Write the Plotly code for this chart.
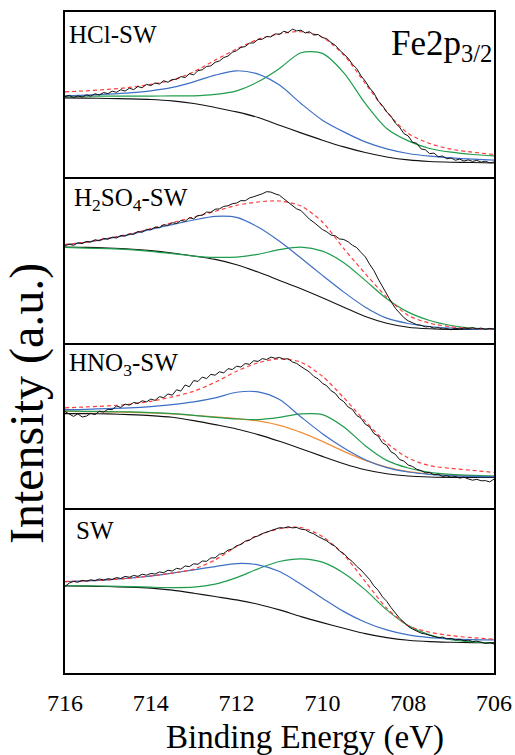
import plotly.graph_objects as go
from plotly.subplots import make_subplots

# ---------------- data (binding energy in eV, intensity in a.u.) ----------------
E_RAW = [round(716 - 0.1 * i, 1) for i in range(101)]
E_FIT = [716 - 0.5 * i for i in range(21)]
X_TICKS = [716, 714, 712, 710, 708, 706]

# HCl-SW
hcl_raw = [80.5, 81.8, 79.6, 81.2, 80.1, 82.3, 81.0, 83.4, 82.1, 84.6,
           83.5, 85.9, 84.8, 87.4, 86.0, 88.9, 87.5, 90.6, 89.3, 92.8,
           91.5, 94.2, 93.0, 96.4, 94.8, 97.6, 97.9, 100.5, 99.6, 103.4,
           102.2, 106.5, 107.3, 110.6, 111.2, 114.8, 116.1, 119.5, 121.0, 124.8,
           126.4, 129.6, 130.5, 133.9, 134.2, 137.6, 137.8, 140.5, 140.1, 143.2,
           142.6, 145.8, 144.4, 147.9, 146.2, 146.8, 144.1, 145.3, 142.0, 142.6,
           139.5, 138.4, 134.6, 131.8, 127.0, 122.6, 118.9, 112.8, 108.5, 101.3,
           95.9, 89.2, 84.1, 76.3, 71.5, 65.2, 60.8, 54.1, 49.9, 43.6,
           41.2, 35.0, 33.9, 28.3, 27.4, 23.6, 24.1, 20.5, 21.2, 18.4,
           19.3, 17.0, 18.1, 16.2, 17.3, 15.8, 16.9, 15.1, 16.0, 14.4, 15.2]
hcl_env = [85.3, 86.3, 87.7, 89.7, 92.7, 97.0, 105.3, 117.0, 128.0, 137.7, 143.3,
           145.3, 139.7, 122.0, 93.7, 65.3, 43.7, 33.7, 28.0, 25.0, 22.7]
hcl_bg = [79.3, 79.0, 78.7, 78.3, 77.7, 76.3, 73.7, 69.7, 65.3, 59.7, 52.0,
          44.3, 37.0, 30.3, 24.7, 20.3, 17.3, 15.7, 15.0, 14.7, 14.3]
hcl_blue = [81.3, 82.0, 83.0, 84.3, 86.3, 89.7, 95.3, 102.0, 106.3, 103.0, 92.0,
            73.7, 57.0, 45.3, 35.3, 28.3, 23.7, 21.0, 19.3, 18.0, 17.0]
hcl_green = [81.0, 81.0, 81.0, 81.0, 81.0, 81.3, 81.3, 82.7, 86.3, 95.3, 108.7,
             124.3, 123.7, 104.3, 73.7, 48.7, 36.3, 28.7, 25.0, 22.7, 21.3]

# H2SO4-SW
h2so4_raw = [96.8, 98.1, 97.0, 99.5, 98.7, 100.9, 100.2, 102.6, 101.5, 104.0,
             103.1, 105.2, 104.3, 106.9, 106.2, 108.4, 108.0, 110.8, 110.1, 113.0,
             112.4, 115.2, 114.6, 117.5, 117.0, 119.6, 118.9, 121.8, 121.0, 124.6,
             123.5, 126.8, 127.1, 130.2, 130.0, 133.1, 133.4, 135.9, 136.5, 138.6,
             139.2, 141.7, 141.5, 144.3, 145.6, 146.9, 148.5, 150.6, 150.2, 148.4,
             147.0, 143.5, 140.2, 137.6, 133.4, 131.8, 127.5, 123.1, 120.0, 116.2,
             112.8, 110.6, 107.3, 106.5, 103.4, 102.8, 100.6, 97.1, 94.8, 89.9,
             85.5, 78.2, 71.9, 63.4, 55.8, 47.6, 40.9, 34.2, 29.5, 24.8,
             21.6, 19.7, 17.8, 17.2, 15.6, 15.9, 14.3, 14.8, 13.5, 13.9,
             12.7, 14.2, 13.4, 14.6, 13.8, 14.9, 13.6, 14.4, 13.2, 14.1, 13.5]
h2so4_env = [97.7, 100.3, 104.0, 108.3, 113.7, 119.7, 125.3, 131.0, 137.0, 140.3, 141.3,
             136.3, 120.3, 93.7, 68.7, 45.3, 27.0, 19.3, 15.7, 14.0, 13.3]
h2so4_bg = [95.3, 95.0, 94.3, 93.3, 91.7, 89.3, 86.3, 83.0, 77.7, 70.3, 62.0,
            53.7, 44.7, 35.3, 26.0, 19.3, 15.3, 13.7, 13.0, 13.0, 13.0]
h2so4_blue = [97.7, 100.3, 103.7, 107.7, 113.0, 117.7, 122.3, 126.0, 125.0, 115.3, 101.0,
              84.3, 67.0, 50.3, 35.3, 24.3, 19.0, 16.0, 14.3, 13.3, 13.0]
h2so4_green = [95.0, 94.3, 93.7, 92.7, 91.0, 88.7, 86.3, 85.0, 85.3, 88.0, 92.7,
               95.3, 91.3, 79.7, 62.0, 43.7, 30.3, 22.0, 17.0, 14.3, 13.3]

# HNO3-SW
hno3_raw = [96.0, 93.5, 91.2, 93.8, 90.6, 91.5, 94.3, 93.0, 96.4, 95.5,
            98.3, 97.9, 101.6, 100.2, 103.5, 102.4, 105.1, 104.2, 106.8, 105.7,
            108.5, 107.2, 110.9, 110.0, 113.6, 112.4, 117.8, 116.5, 122.6, 120.8,
            127.0, 126.1, 130.5, 129.0, 133.2, 132.4, 135.8, 134.6, 138.9, 138.0,
            141.3, 140.5, 144.0, 143.2, 146.8, 146.1, 148.9, 148.0, 150.4, 149.2,
            150.1, 148.3, 148.8, 145.6, 144.1, 141.0, 138.2, 135.5, 131.1, 128.7,
            124.3, 121.8, 116.9, 114.2, 108.8, 105.9, 100.6, 98.2, 92.1, 89.5,
            83.4, 80.8, 74.2, 71.5, 64.9, 62.3, 55.8, 53.4, 48.1, 46.6,
            42.7, 41.2, 38.4, 37.1, 34.9, 35.3, 32.8, 33.6, 31.1, 32.0,
            30.4, 31.2, 29.6, 30.5, 28.8, 27.5, 28.4, 26.9, 27.1, 25.8, 28.6]
hno3_env = [99.7, 100.7, 101.7, 103.3, 106.3, 110.7, 116.3, 125.3, 136.3, 144.7, 148.7,
            145.3, 131.3, 109.7, 86.3, 64.7, 49.7, 42.0, 39.3, 37.3, 35.3]
hno3_bg = [94.0, 94.0, 93.7, 93.0, 92.0, 90.3, 87.0, 83.0, 78.7, 73.0, 66.3,
           59.0, 51.3, 44.0, 38.0, 34.0, 31.7, 30.7, 30.3, 30.3, 30.3]
hno3_blue = [98.0, 98.3, 99.0, 99.7, 101.0, 103.0, 105.7, 109.7, 115.3, 115.7, 108.0,
             90.7, 74.0, 59.7, 48.0, 40.0, 35.7, 33.3, 32.0, 31.3, 31.0]
hno3_green = [96.7, 96.3, 96.0, 95.7, 95.0, 94.0, 92.3, 90.3, 88.7, 88.0, 90.3,
              93.7, 93.0, 80.7, 62.0, 47.3, 39.7, 35.3, 33.3, 32.3, 31.7]
hno3_orange = [96.3, 96.0, 95.7, 95.3, 94.7, 93.7, 92.3, 90.7, 89.0, 86.7, 82.3,
               75.3, 66.3, 56.3, 47.3, 40.7, 36.0, 33.7, 32.3, 31.7, 31.3]

# SW
sw_raw = [86.5, 89.8, 91.4, 90.6, 92.5, 91.7, 93.1, 92.2, 93.9, 92.8,
          94.2, 93.5, 95.3, 94.4, 96.5, 95.6, 97.4, 96.5, 98.6, 97.7,
          99.4, 98.8, 100.9, 100.2, 102.6, 101.8, 104.5, 103.7, 106.9, 106.2,
          109.0, 108.6, 111.8, 111.5, 114.9, 115.0, 118.6, 119.4, 122.7, 123.8,
          127.0, 128.4, 131.6, 132.5, 135.7, 136.8, 139.2, 140.7, 142.6, 143.4,
          145.1, 144.8, 146.0, 144.9, 145.3, 143.6, 143.1, 140.5, 139.0, 136.2,
          134.1, 132.0, 128.7, 126.5, 121.8, 119.3, 114.6, 111.2, 106.5, 102.8,
          98.1, 93.4, 87.0, 82.6, 76.1, 71.5, 65.3, 60.1, 54.6, 50.8,
          46.5, 43.9, 41.6, 39.8, 38.9, 37.5, 36.8, 35.3, 35.9, 34.2,
          34.6, 33.1, 33.7, 32.2, 32.8, 31.4, 31.9, 30.6, 29.5, 30.2, 29.0]
sw_env = [91.3, 92.0, 93.0, 94.7, 97.0, 99.7, 103.7, 113.0, 126.3, 137.3, 144.0,
          145.3, 136.3, 118.0, 91.3, 64.7, 47.3, 40.7, 37.3, 35.3, 33.7]
sw_bg = [87.0, 86.7, 86.3, 85.7, 84.7, 82.7, 79.7, 76.3, 73.0, 68.7, 63.0,
         56.3, 50.3, 44.7, 39.3, 35.3, 32.7, 31.3, 30.7, 30.3, 30.3]
sw_blue = [91.3, 92.0, 93.0, 94.7, 96.7, 99.7, 103.0, 106.3, 109.3, 108.0, 101.3,
           88.7, 74.7, 61.3, 50.7, 43.0, 38.0, 35.3, 34.0, 33.3, 33.0]
sw_green = [87.3, 87.0, 86.7, 86.3, 85.7, 85.3, 85.7, 88.7, 95.3, 104.0, 111.3,
            114.0, 110.7, 99.7, 83.0, 63.0, 47.3, 38.0, 33.3, 31.0, 29.7]

PANELS = [
    ("HCl-SW", hcl_raw, hcl_env, hcl_bg, hcl_blue, hcl_green, None),
    ("H<sub>2</sub>SO<sub>4</sub>-SW", h2so4_raw, h2so4_env, h2so4_bg, h2so4_blue, h2so4_green, None),
    ("HNO<sub>3</sub>-SW", hno3_raw, hno3_env, hno3_bg, hno3_blue, hno3_green, hno3_orange),
    ("SW", sw_raw, sw_env, sw_bg, sw_blue, sw_green, None),
]

# ---------------- styling ----------------
W, H = 515, 755
ML, MR, MT, MB = 65, 21, 12, 82
PW, PH = W - ML - MR, H - MT - MB
FONT = "Liberation Serif"
BLUE, GREEN, ORANGE, RED = "#3d6fc4", "#1f9d4c", "#f0903a", "#ff3b3b"


def px(xp):
    return (xp - ML) / PW


def py(yp):
    return (H - MB - yp) / PH


fig = make_subplots(rows=4, cols=1, shared_xaxes=True, vertical_spacing=0)

label_pos = [(67, 34), (72, 199), (67, 364), (74, 530)]
for i, (label, raw, env, bg, blue, green, orange) in enumerate(PANELS):
    r = i + 1
    spl = dict(shape="spline", smoothing=0.8)
    fig.add_trace(go.Scatter(x=E_FIT, y=bg, mode="lines",
                             line=dict(color="#111111", width=1.1, **spl)), row=r, col=1)
    if orange is not None:
        fig.add_trace(go.Scatter(x=E_FIT, y=orange, mode="lines",
                                 line=dict(color=ORANGE, width=1.2, **spl)), row=r, col=1)
    fig.add_trace(go.Scatter(x=E_FIT, y=green, mode="lines",
                             line=dict(color=GREEN, width=1.2, **spl)), row=r, col=1)
    fig.add_trace(go.Scatter(x=E_FIT, y=blue, mode="lines",
                             line=dict(color=BLUE, width=1.2, **spl)), row=r, col=1)
    fig.add_trace(go.Scatter(x=E_FIT, y=env, mode="lines",
                             line=dict(color=RED, width=1.2, dash="4px,3px", **spl)), row=r, col=1)
    fig.add_trace(go.Scatter(x=E_RAW, y=raw, mode="lines",
                             line=dict(color="#111111", width=1.0)), row=r, col=1)
    lx, ly = label_pos[i]
    fig.add_annotation(text=label, x=px(lx), y=py(ly), xref="paper", yref="paper",
                       xanchor="left", yanchor="middle", showarrow=False,
                       font=dict(family=FONT, size=25, color="black"))

fig.add_annotation(text="Fe2p<sub>3/2</sub>", x=px(494), y=py(45), xref="paper", yref="paper",
                   xanchor="right", yanchor="middle", showarrow=False,
                   font=dict(family=FONT, size=35, color="black"))
fig.add_annotation(text="Binding Energy (eV)", x=px(305), y=py(737), xref="paper", yref="paper",
                   xanchor="center", yanchor="middle", showarrow=False,
                   font=dict(family=FONT, size=33, color="black"))
fig.add_annotation(text="Intensity (a.u.)", x=px(27), y=py(404), xref="paper", yref="paper",
                   xanchor="center", yanchor="middle", showarrow=False, textangle=-90,
                   font=dict(family=FONT, size=48, color="black"))

for r in range(1, 5):
    fig.update_xaxes(range=[716, 706], showline=True, mirror=(r == 1), linewidth=2, linecolor="black",
                     showgrid=False, zeroline=False, tickvals=X_TICKS, automargin=False,
                     showticklabels=(r == 4), ticks="", ticklabelstandoff=7,
                     tickfont=dict(family=FONT, size=24, color="black"), row=r, col=1)
    fig.update_yaxes(range=[0, 165], showline=True, mirror=True, linewidth=2, linecolor="black",
                     showgrid=False, zeroline=False, showticklabels=False, ticks="",
                     automargin=False, row=r, col=1)

fig.update_layout(width=W, height=H, margin=dict(l=ML, r=MR, t=MT, b=MB, autoexpand=False),
                  paper_bgcolor="white", plot_bgcolor="white", showlegend=False,
                  font=dict(family=FONT))

fig.write_html("out.html")
